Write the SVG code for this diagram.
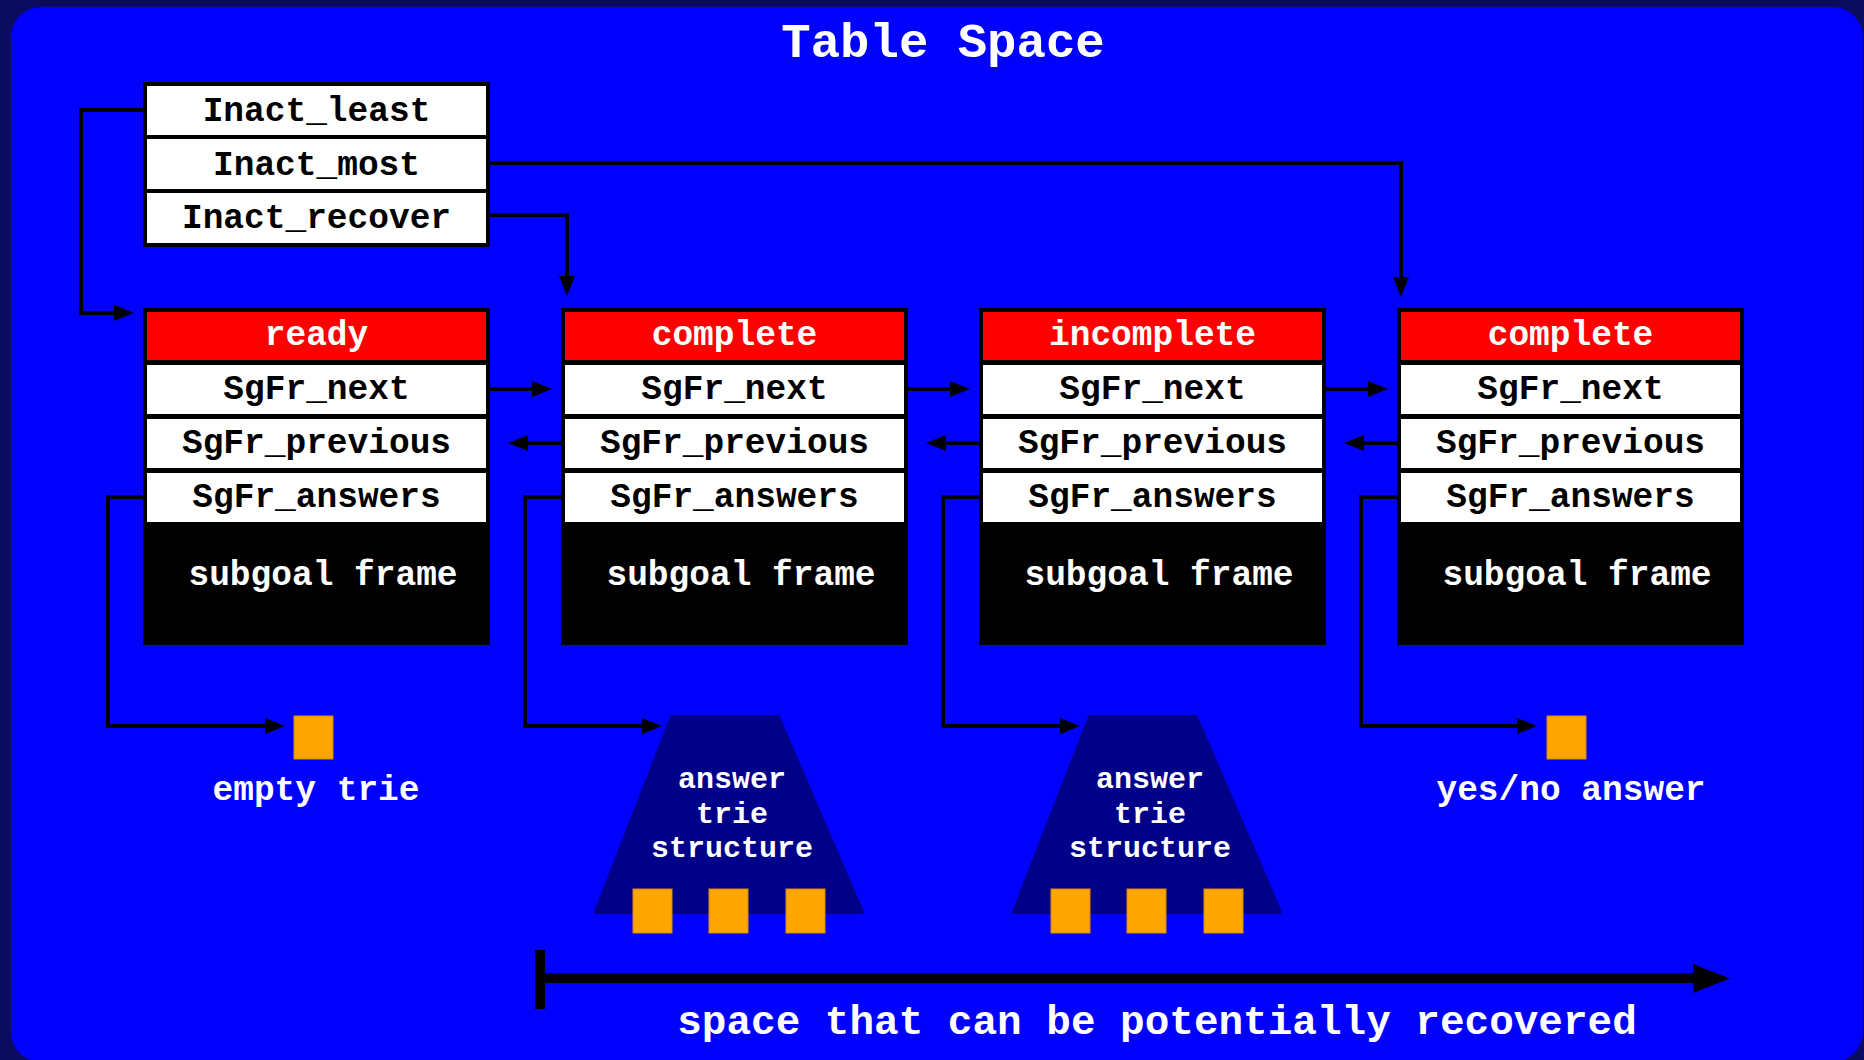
<svg xmlns="http://www.w3.org/2000/svg" width="1864" height="1060" viewBox="0 0 1864 1060">
<defs>
<style>
.t{font-family:"Liberation Mono","Courier New",monospace;font-weight:bold;font-size:34.5px;text-anchor:middle}
.tt{font-size:30px}
.blk{fill:#000}
.wt{fill:#fff}
.rd{fill:#ff0000}
.frame{fill:#000}
.cell{fill:#fff}
.sq{fill:#ffa500;stroke:#d98c00;stroke-width:1}
.trap{fill:#000088;stroke:#000088;stroke-width:4;stroke-linejoin:round}
.conn{fill:none;stroke:#000;stroke-width:4;stroke-linejoin:miter}
</style>
<marker id="ah" markerUnits="userSpaceOnUse" markerWidth="20" markerHeight="16" refX="0" refY="8" orient="auto" overflow="visible">
<path d="M0,0 L20,8 L0,16 Z" fill="#000"/>
</marker>
</defs>
<rect x="0" y="0" width="1864" height="1060" fill="#0c0c5e"/>
<rect x="11" y="7" width="1852" height="1055" rx="30" ry="30" fill="#0000ff"/>
<text class="t wt" x="943" y="57" style="font-size:49px">Table Space</text>

<g id="inact-table">
<rect class="frame" x="143" y="82" width="347" height="165"/>
<rect class="cell" x="147" y="86" width="339" height="49"/>
<rect class="cell" x="147" y="139" width="339" height="50"/>
<rect class="cell" x="147" y="193" width="339" height="50"/>
<text class="t blk" x="316.5" y="121">Inact_least</text>
<text class="t blk" x="316.5" y="175">Inact_most</text>
<text class="t blk" x="316.5" y="228">Inact_recover</text>
</g>

<g id="node-ready">
<rect class="frame" x="143" y="308" width="347" height="337"/>
<rect class="rd" x="147" y="312" width="339" height="48"/>
<rect class="cell" x="147" y="365" width="339" height="49"/>
<rect class="cell" x="147" y="419" width="339" height="49"/>
<rect class="cell" x="147" y="473" width="339" height="49"/>
<text class="t wt" x="316.5" y="345">ready</text>
<text class="t blk" x="316.5" y="399">SgFr_next</text>
<text class="t blk" x="316.5" y="453">SgFr_previous</text>
<text class="t blk" x="316.5" y="507">SgFr_answers</text>
<text class="t wt" x="323" y="585">subgoal frame</text>
</g>

<g id="node-complete-1">
<rect class="frame" x="561" y="308" width="347" height="337"/>
<rect class="rd" x="565" y="312" width="339" height="48"/>
<rect class="cell" x="565" y="365" width="339" height="49"/>
<rect class="cell" x="565" y="419" width="339" height="49"/>
<rect class="cell" x="565" y="473" width="339" height="49"/>
<text class="t wt" x="734.5" y="345">complete</text>
<text class="t blk" x="734.5" y="399">SgFr_next</text>
<text class="t blk" x="734.5" y="453">SgFr_previous</text>
<text class="t blk" x="734.5" y="507">SgFr_answers</text>
<text class="t wt" x="741" y="585">subgoal frame</text>
</g>

<g id="node-incomplete">
<rect class="frame" x="979" y="308" width="347" height="337"/>
<rect class="rd" x="983" y="312" width="339" height="48"/>
<rect class="cell" x="983" y="365" width="339" height="49"/>
<rect class="cell" x="983" y="419" width="339" height="49"/>
<rect class="cell" x="983" y="473" width="339" height="49"/>
<text class="t wt" x="1152.5" y="345">incomplete</text>
<text class="t blk" x="1152.5" y="399">SgFr_next</text>
<text class="t blk" x="1152.5" y="453">SgFr_previous</text>
<text class="t blk" x="1152.5" y="507">SgFr_answers</text>
<text class="t wt" x="1159" y="585">subgoal frame</text>
</g>

<g id="node-complete-2">
<rect class="frame" x="1397" y="308" width="347" height="337"/>
<rect class="rd" x="1401" y="312" width="339" height="48"/>
<rect class="cell" x="1401" y="365" width="339" height="49"/>
<rect class="cell" x="1401" y="419" width="339" height="49"/>
<rect class="cell" x="1401" y="473" width="339" height="49"/>
<text class="t wt" x="1570.5" y="345">complete</text>
<text class="t blk" x="1570.5" y="399">SgFr_next</text>
<text class="t blk" x="1570.5" y="453">SgFr_previous</text>
<text class="t blk" x="1570.5" y="507">SgFr_answers</text>
<text class="t wt" x="1577" y="585">subgoal frame</text>
</g>

<g id="empty-trie">
<rect class="sq" x="294" y="716" width="39" height="43"/>
<text class="t wt" x="316" y="800">empty trie</text>
</g>

<g id="answer-trie-1">
<polygon class="trap" points="672,717 778,717 862,912 596,912"/>
<text class="t tt wt" x="732" y="788">answer</text>
<text class="t tt wt" x="732" y="822.5">trie</text>
<text class="t tt wt" x="732" y="857">structure</text>
<rect class="sq" x="633" y="889" width="39" height="44"/>
<rect class="sq" x="709" y="889" width="39" height="44"/>
<rect class="sq" x="786" y="889" width="39" height="44"/>
</g>

<g id="answer-trie-2">
<polygon class="trap" points="1090,717 1196,717 1280,912 1014,912"/>
<text class="t tt wt" x="1150" y="788">answer</text>
<text class="t tt wt" x="1150" y="822.5">trie</text>
<text class="t tt wt" x="1150" y="857">structure</text>
<rect class="sq" x="1051" y="889" width="39" height="44"/>
<rect class="sq" x="1127" y="889" width="39" height="44"/>
<rect class="sq" x="1204" y="889" width="39" height="44"/>
</g>

<g id="yes-no-answer">
<rect class="sq" x="1547" y="716" width="39" height="43"/>
<text class="t wt" x="1571" y="800">yes/no answer</text>
</g>

<g id="connectors">
<path class="conn" d="M143,110 H81 V313 H114" marker-end="url(#ah)"/>
<path class="conn" d="M490,163 H1401 V277" marker-end="url(#ah)"/>
<path class="conn" d="M490,215 H567 V276" marker-end="url(#ah)"/>
<path class="conn" d="M490,389 H532" marker-end="url(#ah)"/>
<path class="conn" d="M908,389 H950" marker-end="url(#ah)"/>
<path class="conn" d="M1326,389 H1368" marker-end="url(#ah)"/>
<path class="conn" d="M561,443 H528" marker-end="url(#ah)"/>
<path class="conn" d="M979,443 H946" marker-end="url(#ah)"/>
<path class="conn" d="M1397,443 H1364" marker-end="url(#ah)"/>
<path class="conn" d="M143,497 H108 V726 H265" marker-end="url(#ah)"/>
<path class="conn" d="M561,497 H525 V726 H642" marker-end="url(#ah)"/>
<path class="conn" d="M979,497 H943 V726 H1060" marker-end="url(#ah)"/>
<path class="conn" d="M1397,497 H1361 V726 H1517" marker-end="url(#ah)"/>
</g>

<g id="recoverable-span">
<rect x="535" y="950" width="10" height="59" fill="#000"/>
<path d="M545,978 H1694" stroke="#000" stroke-width="10" fill="none"/>
<polygon points="1693,964 1730,978.5 1693,993" fill="#000"/>
<text class="t wt" x="1157" y="1034" style="font-size:41px">space that can be potentially recovered</text>
</g>
</svg>
